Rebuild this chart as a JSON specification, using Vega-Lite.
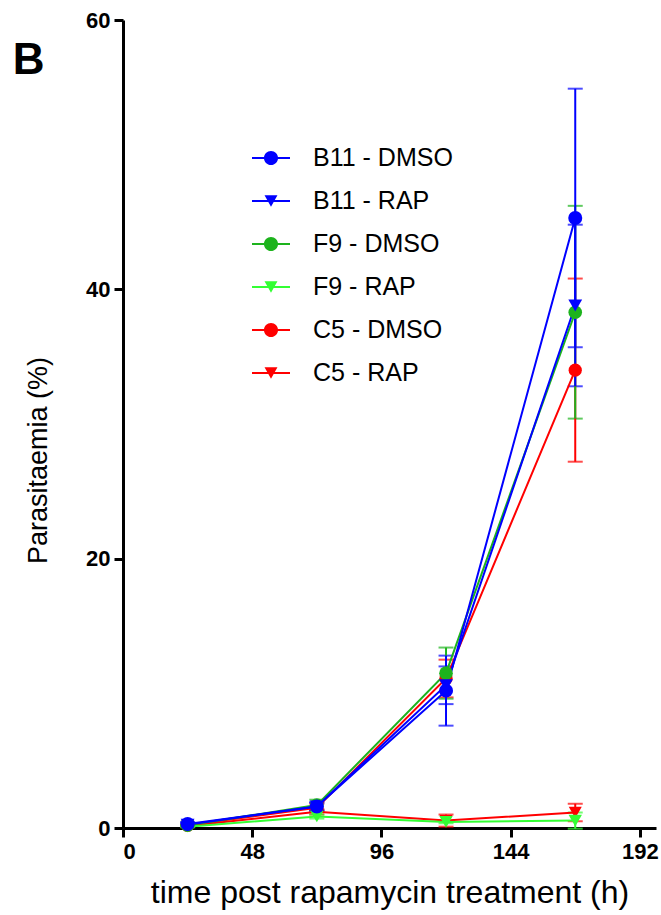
{
  "$schema": "https://vega.github.io/schema/vega-lite/v6.json",
  "width": 533,
  "height": 808,
  "autosize": "none",
  "padding": {"left": 123, "top": 20, "right": 5, "bottom": 87},
  "background": "white",
  "config": {
    "font": "Liberation Sans",
    "view": {"stroke": null},
    "axis": {
      "grid": false,
      "domainColor": "black",
      "domainWidth": 3,
      "tickColor": "black",
      "tickWidth": 3,
      "tickSize": 9,
      "labelColor": "black",
      "labelFont": "Liberation Sans",
      "labelFontSize": 22,
      "labelFontWeight": "bold",
      "labelPadding": 4,
      "titleColor": "black",
      "titleFont": "Liberation Sans",
      "titleFontWeight": "normal",
      "titleFontSize": 26
    }
  },
  "datasets": {
    "panel": [{"panel": "B"}],
    "series": [
      {"series": "C5 - RAP", "t": 24, "mean": 0.15, "sd": 0.05},
      {"series": "C5 - RAP", "t": 72, "mean": 1.2, "sd": 0.2},
      {"series": "C5 - RAP", "t": 120, "mean": 0.55, "sd": 0.45},
      {"series": "C5 - RAP", "t": 168, "mean": 1.15, "sd": 0.65},
      {"series": "C5 - DMSO", "t": 24, "mean": 0.2, "sd": 0.05},
      {"series": "C5 - DMSO", "t": 72, "mean": 1.5, "sd": 0.3},
      {"series": "C5 - DMSO", "t": 120, "mean": 11.1, "sd": 1.4},
      {"series": "C5 - DMSO", "t": 168, "mean": 34.0, "sd": 6.8},
      {"series": "F9 - RAP", "t": 24, "mean": 0.1, "sd": 0.05},
      {"series": "F9 - RAP", "t": 72, "mean": 0.85, "sd": 0.15},
      {"series": "F9 - RAP", "t": 120, "mean": 0.45, "sd": 0.1},
      {"series": "F9 - RAP", "t": 168, "mean": 0.55, "sd": 0.6},
      {"series": "F9 - DMSO", "t": 24, "mean": 0.2, "sd": 0.05},
      {"series": "F9 - DMSO", "t": 72, "mean": 1.7, "sd": 0.4},
      {"series": "F9 - DMSO", "t": 120, "mean": 11.5, "sd": 1.9},
      {"series": "F9 - DMSO", "t": 168, "mean": 38.3, "sd": 7.9},
      {"series": "B11 - RAP", "t": 24, "mean": 0.25, "sd": 0.1},
      {"series": "B11 - RAP", "t": 72, "mean": 1.6, "sd": 0.3},
      {"series": "B11 - RAP", "t": 120, "mean": 10.6, "sd": 1.4},
      {"series": "B11 - RAP", "t": 168, "mean": 38.8, "sd": 6.0},
      {"series": "B11 - DMSO", "t": 24, "mean": 0.3, "sd": 0.15},
      {"series": "B11 - DMSO", "t": 72, "mean": 1.6, "sd": 0.3},
      {"series": "B11 - DMSO", "t": 120, "mean": 10.2, "sd": 2.6},
      {"series": "B11 - DMSO", "t": 168, "mean": 45.3, "sd": 9.6}
    ]
  },
  "layer": [
    {
      "data": {"name": "series"},
      "encoding": {
        "x": {
          "field": "t",
          "type": "quantitative",
          "scale": {"domain": [0, 198], "nice": false, "zero": false},
          "axis": {"values": [0, 48, 96, 144, 192], "title": "time post rapamycin treatment (h)", "titlePadding": 15, "titleFontSize": 32}
        },
        "y": {
          "field": "mean",
          "type": "quantitative",
          "scale": {"domain": [0, 60], "nice": false},
          "axis": {"values": [0, 20, 40, 60], "title": "Parasitaemia (%)", "titlePadding": 33, "titleFontSize": 27, "titleY": 440}
        }
      },
      "layer": [
        {
          "mark": {"type": "errorbar", "ticks": {"size": 15}, "thickness": 2},
          "encoding": {
            "yError": {"field": "sd"},
            "color": {
              "field": "series", "type": "nominal", "legend": null,
              "scale": {"domain": ["B11 - DMSO", "B11 - RAP", "F9 - DMSO", "F9 - RAP", "C5 - DMSO", "C5 - RAP"], "range": ["#0000FF", "#0000FF", "#1DB31D", "#33FF33", "#FF0000", "#FF0000"]}
            }
          }
        },
        {
          "mark": {"type": "line", "strokeWidth": 2},
          "encoding": {
            "color": {
              "field": "series", "type": "nominal", "legend": null,
              "scale": {"domain": ["B11 - DMSO", "B11 - RAP", "F9 - DMSO", "F9 - RAP", "C5 - DMSO", "C5 - RAP"], "range": ["#0000FF", "#0000FF", "#1DB31D", "#33FF33", "#FF0000", "#FF0000"]}
            }
          }
        },
        {
          "mark": {"type": "point", "filled": true, "opacity": 1, "strokeWidth": 0},
          "encoding": {
            "color": {
              "field": "series", "type": "nominal", "legend": null,
              "scale": {"domain": ["B11 - DMSO", "B11 - RAP", "F9 - DMSO", "F9 - RAP", "C5 - DMSO", "C5 - RAP"], "range": ["#0000FF", "#0000FF", "#1DB31D", "#33FF33", "#FF0000", "#FF0000"]}
            },
            "shape": {
              "field": "series", "type": "nominal", "legend": null,
              "scale": {"domain": ["B11 - DMSO", "B11 - RAP", "F9 - DMSO", "F9 - RAP", "C5 - DMSO", "C5 - RAP"], "range": ["circle", "triangle-down", "circle", "triangle-down", "circle", "triangle-down"]}
            },
            "size": {
              "field": "series", "type": "nominal", "legend": null,
              "scale": {"domain": ["B11 - DMSO", "B11 - RAP", "F9 - DMSO", "F9 - RAP", "C5 - DMSO", "C5 - RAP"], "range": [196, 170, 196, 170, 196, 170]}
            }
          }
        },
        {
          "mark": {"type": "point", "filled": true, "opacity": 0},
          "encoding": {
            "color": {
              "field": "series", "type": "nominal",
              "scale": {"domain": ["B11 - DMSO", "B11 - RAP", "F9 - DMSO", "F9 - RAP", "C5 - DMSO", "C5 - RAP"], "range": ["#0000FF", "#0000FF", "#1DB31D", "#33FF33", "#FF0000", "#FF0000"]},
              "legend": {"title": null, "orient": "none", "legendX": 129, "legendY": 119, "padding": 0, "symbolSize": 1444, "symbolOpacity": 1, "symbolStrokeWidth": 0, "rowPadding": 11, "labelOffset": 23, "labelFontSize": 25, "labelFont": "Liberation Sans", "labelColor": "black", "labelLimit": 400}
            },
            "shape": {
              "field": "series", "type": "nominal",
              "scale": {"domain": ["B11 - DMSO", "B11 - RAP", "F9 - DMSO", "F9 - RAP", "C5 - DMSO", "C5 - RAP"], "range": [
                "M-1,-0.05H1V0.05H-1ZM0.37,0A0.37,0.37,0,1,1,-0.37,0A0.37,0.37,0,1,1,0.37,0Z",
                "M-1,-0.05H1V0.05H-1ZM-0.34,-0.3L0.34,-0.3L0,0.3Z",
                "M-1,-0.05H1V0.05H-1ZM0.37,0A0.37,0.37,0,1,1,-0.37,0A0.37,0.37,0,1,1,0.37,0Z",
                "M-1,-0.05H1V0.05H-1ZM-0.34,-0.3L0.34,-0.3L0,0.3Z",
                "M-1,-0.05H1V0.05H-1ZM0.37,0A0.37,0.37,0,1,1,-0.37,0A0.37,0.37,0,1,1,0.37,0Z",
                "M-1,-0.05H1V0.05H-1ZM-0.34,-0.3L0.34,-0.3L0,0.3Z"
              ]},
              "legend": {"title": null, "orient": "none", "legendX": 129, "legendY": 119, "padding": 0, "symbolSize": 1444, "symbolOpacity": 1, "symbolStrokeWidth": 0, "rowPadding": 11, "labelOffset": 23, "labelFontSize": 25, "labelFont": "Liberation Sans", "labelColor": "black", "labelLimit": 400}
            }
          }
        }
      ],
      "resolve": {"scale": {"color": "independent", "shape": "independent", "size": "independent"}}
    },
    {
      "data": {"name": "panel"},
      "mark": {"type": "text", "fontSize": 44, "fontWeight": "bold", "font": "Liberation Sans", "color": "black", "align": "left", "baseline": "alphabetic", "clip": false},
      "encoding": {
        "x": {"datum": -41, "type": "quantitative"},
        "y": {"datum": 56, "type": "quantitative"},
        "text": {"field": "panel"}
      }
    }
  ]
}
